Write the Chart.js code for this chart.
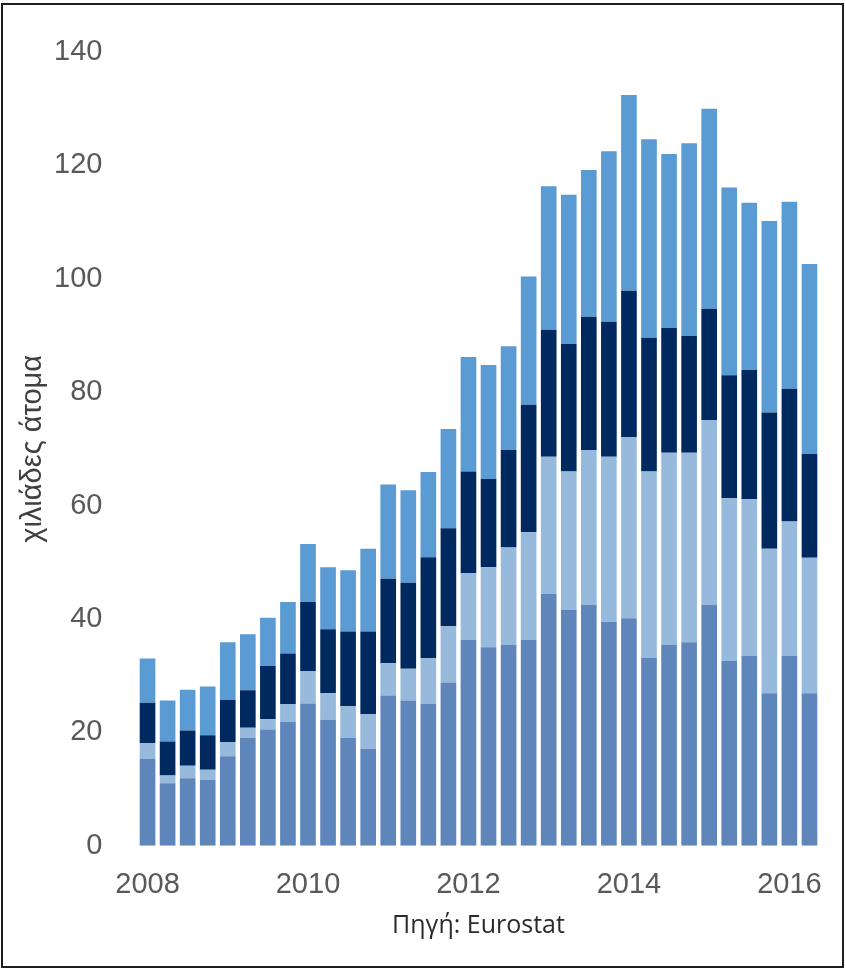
<!DOCTYPE html>
<html>
<head>
<meta charset="utf-8">
<script src="https://cdn.jsdelivr.net/npm/chart.js@4.4.1/dist/chart.umd.min.js"></script>
<style>
    body { margin: 0; background: #fff; }
    #wrap { position: relative; width: 846px; height: 970px; }
    #frame {
        position: absolute; left: 1px; top: 3px; width: 843px; height: 965px;
        border: 2px solid #1e1e1e; box-sizing: border-box; pointer-events: none;
    }
    #source {
        position: absolute; left: 378.5px; width: 200px; top: 911px;
        text-align: center; font: 25px/25px "Open Sans", sans-serif; color: #2b2b2b;
    }
</style>
</head>
<body>
<div id="wrap">
    <canvas id="chart"></canvas>
    <div id="source">Πηγή: Eurostat</div>
    <div id="frame"></div>
</div>
<script>
// quarters 2008Q1 .. 2016Q2
const categories = [];
for (let y = 2008; y <= 2016; y++) {
    for (let q = 1; q <= 4; q++) {
        if (y === 2016 && q > 2) break;
        categories.push(y + "Q" + q);
    }
}
const yearTicks = ["2008", "2010", "2012", "2014", "2016"];
const yTicks = [0, 20, 40, 60, 80, 100, 120, 140];

// stacked segments, thousands of persons (bottom to top)
const series1 = [15.3, 11.0, 11.9, 11.6, 15.8, 19.0, 20.5, 21.8, 25.1, 22.2, 19.0, 17.1,
    26.5, 25.6, 25.0, 28.8, 36.3, 35.0, 35.4, 36.3, 44.4, 41.6, 42.5, 39.5,
    40.1, 33.1, 35.4, 35.9, 42.5, 32.6, 33.5, 26.9, 33.5, 26.9];
const series2 = [2.8, 1.4, 2.2, 1.8, 2.5, 1.8, 1.8, 3.2, 5.7, 4.7, 5.6, 6.1,
    5.7, 5.6, 8.1, 9.9, 11.8, 14.1, 17.2, 19.0, 24.2, 24.4, 27.3, 29.1,
    32.0, 32.9, 33.9, 33.4, 32.6, 28.7, 27.6, 25.5, 23.7, 23.9];
const series3 = [7.1, 6.0, 6.2, 6.1, 7.4, 6.6, 9.4, 8.9, 12.2, 11.3, 13.2, 14.6,
    14.9, 15.2, 17.8, 17.3, 17.9, 15.6, 17.2, 22.5, 22.4, 22.5, 23.5, 23.8,
    25.8, 23.6, 22.0, 20.6, 19.6, 21.7, 22.8, 24.0, 23.4, 18.3];
const series4 = [7.8, 7.2, 7.2, 8.6, 10.2, 9.9, 8.5, 9.1, 10.2, 10.9, 10.8, 14.6,
    16.6, 16.3, 15.0, 17.5, 20.2, 20.1, 18.3, 22.6, 25.3, 26.3, 25.9, 30.1,
    34.5, 35.0, 30.7, 34.0, 35.3, 33.1, 29.5, 33.8, 33.0, 33.5];

const colors = ["#5e86bb", "#96b9dc", "#002a5f", "#5b9bd3"];

const ds = (label, data, color) => ({
    label,
    data,
    backgroundColor: color,
    borderWidth: 0,
    barPercentage: 0.78,
    categoryPercentage: 1.0
});

new Chart(document.getElementById("chart"), {
    type: "bar",
    data: {
        labels: categories,
        datasets: [
            ds("Σειρά 1", series1, colors[0]),
            ds("Σειρά 2", series2, colors[1]),
            ds("Σειρά 3", series3, colors[2]),
            ds("Σειρά 4", series4, colors[3])
        ]
    },
    options: {
        responsive: true,
        maintainAspectRatio: false,
        animation: false,
        layout: { padding: { left: 15.5, right: 26.5, top: 52, bottom: 54.5 } },
        plugins: {
            legend: { display: false },
            tooltip: { enabled: false }
        },
        scales: {
            x: {
                stacked: true,
                grid: { display: false },
                border: { display: false },
                ticks: {
                    autoSkip: false,
                    maxRotation: 0,
                    padding: 13.5,
                    color: "#595959",
                    font: { family: "'Liberation Sans'", size: 29 },
                    callback: function (v) {
                        const c = categories[v];
                        const yr = c.slice(0, 4);
                        return c.endsWith("Q1") && yearTicks.includes(yr) ? yr : "";
                    }
                }
            },
            y: {
                stacked: true,
                min: 0,
                max: 140,
                afterBuildTicks: s => { s.ticks = yTicks.map(v => ({ value: v })); },
                afterFit: s => { s.width = 122; },
                grid: { display: false },
                border: { display: false },
                ticks: {
                    padding: 27,
                    color: "#595959",
                    font: { family: "'Liberation Sans'", size: 29 }
                },
                title: {
                    display: true,
                    text: "χιλιάδες άτομα",
                    color: "#404040",
                    font: { family: "'Liberation Sans'", size: 29 },
                    padding: { top: 0, bottom: 0 }
                }
            }
        }
    }
});
</script>
</body>
</html>
